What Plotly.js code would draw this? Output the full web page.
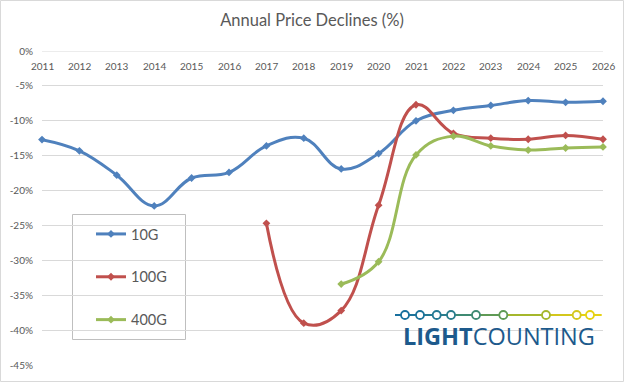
<!DOCTYPE html>
<html>
<head>
<meta charset="utf-8">
<script src="https://cdn.plot.ly/plotly-3.0.1.min.js"></script>
<style>html,body{margin:0;padding:0;background:#fff;}#chart{width:624px;height:382px;}</style>
</head>
<body>
<div id="chart"></div>
<script>
// ---- data ----
const years = [2011,2012,2013,2014,2015,2016,2017,2018,2019,2020,2021,2022,2023,2024,2025,2026];
const years100G = [2017,2018,2019,2020,2021,2022,2023,2024,2025,2026];
const years400G = [2019,2020,2021,2022,2023,2024,2025,2026];
const decline10G = [-12.7,-14.3,-17.8,-22.2,-18.2,-17.4,-13.6,-12.5,-16.9,-14.7,-10.0,-8.5,-7.8,-7.1,-7.35,-7.2];
const decline100G = [-24.7,-39.0,-37.2,-22.1,-7.7,-11.8,-12.5,-12.65,-12.1,-12.65];
const decline400G = [-33.4,-30.2,-14.9,-12.2,-13.6,-14.2,-13.9,-13.75];
const yTicks = [0,-5,-10,-15,-20,-25,-30,-35,-40,-45];
const seriesNames = ['10G','100G','400G'];
const seriesColors = ['#4f81bd','#c0504d','#9bbb59'];
const logoDots = [405,420,436.7,451,476,503.3,546,576.7,590];
const logoColors = ['#18709e','#1c739a','#237993','#297d8c','#3f8a72','#5f9a55','#a5b72c','#d3c71c','#e6d213'];

// ---- geometry ----
const L = 42, R = 21, T = 51, B = 17, W = 624, H = 382;
const PW = W - L - R, PH = H - T - B;
const px = x => (x - L) / PW;
const py = y => (H - B - y) / PH;

const traces = [
  {x: years, y: decline10G},
  {x: years100G, y: decline100G},
  {x: years400G, y: decline400G}
].map((d, i) => ({
  x: d.x, y: d.y, name: seriesNames[i], type: 'scatter', mode: 'lines+markers',
  line: {color: seriesColors[i], width: 3, shape: 'spline', smoothing: 1.15},
  marker: {color: seriesColors[i], size: 6, symbol: 'diamond'},
  legendgroup: seriesNames[i], cliponaxis: false
}));

const shapes = [
  // outer border
  {type: 'rect', xref: 'paper', yref: 'paper', x0: px(0.5), x1: px(623.5), y0: py(381.5), y1: py(0.5),
   line: {color: '#d9d9d9', width: 1}, fillcolor: 'rgba(0,0,0,0)', layer: 'below'},
  // legend box
  {type: 'rect', xref: 'paper', yref: 'paper', x0: px(72.5), x1: px(185.5), y0: py(339.5), y1: py(214.5),
   line: {color: '#bfbfbf', width: 1}, fillcolor: '#ffffff', layer: 'below'},
  // top (0%) gridline
  {type: 'line', xref: 'paper', yref: 'y', x0: 0, x1: 1, y0: 0, y1: 0,
   line: {color: '#d9d9d9', width: 1}, layer: 'below'}
];
// logo line segments
const segX = [395].concat(logoDots).concat([601.7]);
for (let i = 0; i < segX.length - 1; i++) {
  shapes.push({type: 'line', xref: 'paper', yref: 'paper', x0: px(segX[i]), x1: px(segX[i+1]),
    y0: py(315), y1: py(315), line: {color: logoColors[Math.min(i, logoColors.length-1)], width: 2}});
}
logoDots.forEach((cx, i) => {
  shapes.push({type: 'circle', xref: 'paper', yref: 'paper', x0: px(cx - 4), x1: px(cx + 4),
    y0: py(319), y1: py(311), line: {color: logoColors[i], width: 1.8}, fillcolor: '#ffffff'});
});

const annotations = years.map(yr => ({
  xref: 'x', yref: 'y', x: yr, y: 0, yanchor: 'top', xanchor: 'center', yshift: -7,
  text: String(yr), showarrow: false, font: {size: 10, color: '#595959'}
}));
annotations.push({xref: 'paper', yref: 'paper', x: px(498.5), y: py(336), xanchor: 'center', yanchor: 'middle',
  text: '<b>LIGHT</b>COUNTING', showarrow: false,
  font: {family: '"Open Sans", sans-serif', size: 23.5, color: '#1d5a8c'}});

const layout = {
  width: W, height: H,
  margin: {l: L, r: R, t: T, b: B, pad: 0},
  paper_bgcolor: '#ffffff', plot_bgcolor: '#ffffff',
  font: {family: 'Lato, "Open Sans", sans-serif', color: '#595959'},
  title: {text: 'Annual Price Declines (%)', font: {size: 16.5, color: '#595959', family: 'Lato, sans-serif'},
          x: 0.5, xanchor: 'center', y: 1 - 20/H, yanchor: 'middle'},
  xaxis: {range: [2011, 2026], showticklabels: false, showgrid: false, zeroline: false, showline: false,
          ticks: '', fixedrange: true},
  yaxis: {range: [-45, 0], tickvals: yTicks, ticktext: yTicks.map(v => v + '%'),
          showgrid: true, gridcolor: '#d9d9d9', gridwidth: 1, zeroline: false, showline: false,
          ticks: '', ticklabelstandoff: 8, tickfont: {size: 10, color: '#595959'}, fixedrange: true},
  showlegend: true,
  legend: {x: px(91), y: py(218), xanchor: 'left', yanchor: 'top', bgcolor: 'rgba(0,0,0,0)',
           borderwidth: 0, font: {size: 14.5, color: '#595959'}, tracegroupgap: 21},
  shapes: shapes,
  annotations: annotations
};

Plotly.newPlot('chart', traces, layout, {displayModeBar: false, staticPlot: true});
</script>
</body>
</html>
